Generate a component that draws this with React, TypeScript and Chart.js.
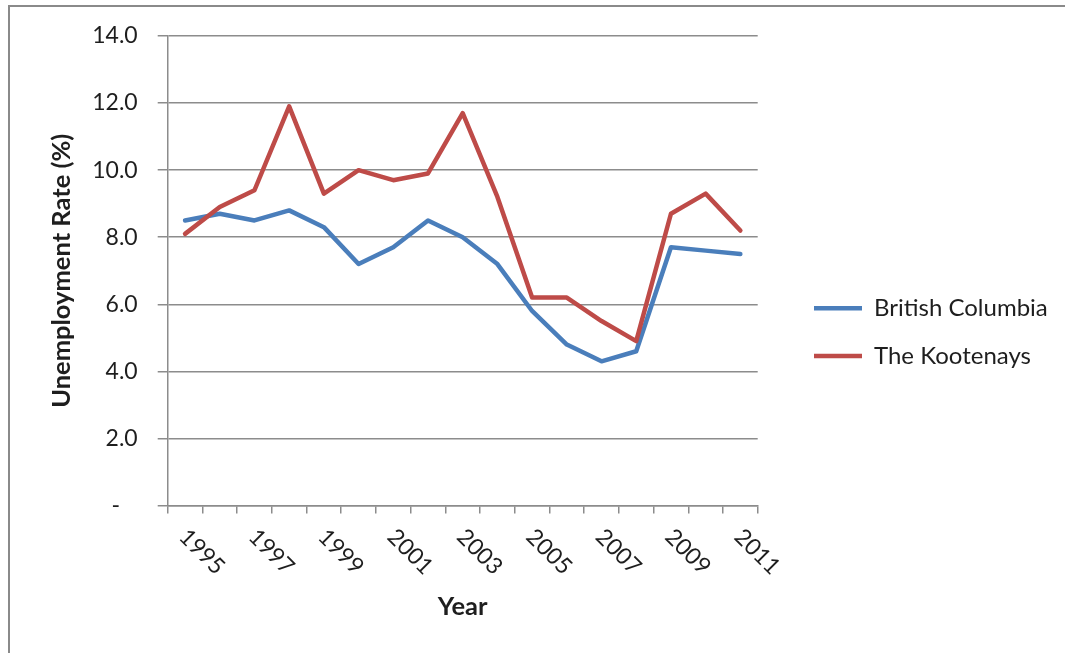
import React, { useEffect, useRef } from 'react';
import { Chart, registerables } from 'chart.js';

Chart.register(...registerables);

const years = ['1995', '1996', '1997', '1998', '1999', '2000', '2001', '2002', '2003', '2004', '2005', '2006', '2007', '2008', '2009', '2010', '2011'];
const xTickLabels = ['1995', '1997', '1999', '2001', '2003', '2005', '2007', '2009', '2011'];
const britishColumbia = [8.5, 8.7, 8.5, 8.8, 8.3, 7.2, 7.7, 8.5, 8.0, 7.2, 5.8, 4.8, 4.3, 4.6, 7.7, 7.6, 7.5];
const kootenays = [8.1, 8.9, 9.4, 11.9, 9.3, 10.0, 9.7, 9.9, 11.7, 9.2, 6.2, 6.2, 5.5, 4.9, 8.7, 9.3, 8.2];
const yTickValues = [0, 2, 4, 6, 8, 10, 12, 14];
const seriesNames = ['British Columbia', 'The Kootenays'];

const FONT = 'Lato';
const TEXT = '#1e1e1e';
const GRID = '#8c8c8c';
const FS = 23;
const LFS = 24;
const TFS = 25.5;

const LEGEND_PITCH = 47.7;
const LEGEND_PAD = LEGEND_PITCH - LFS;
const LEGEND_LINE = 48;
const LEGEND_ITEMS_X = 814;
const CHART_RIGHT = 757.7;

const rotatedXLabels = {
  id: 'rotatedXLabels',
  afterDraw(chart: any) {
    const xs = chart.scales.x;
    const ctx = chart.ctx as CanvasRenderingContext2D;
    ctx.save();
    ctx.font = `${FS}px ${FONT}`;
    ctx.fillStyle = TEXT;
    ctx.textAlign = 'left';
    ctx.textBaseline = 'middle';
    xTickLabels.forEach((label) => {
      const i = years.indexOf(label);
      const px = xs.getPixelForValue(i);
      ctx.save();
      ctx.translate(px - 2, xs.top + 27.5);
      ctx.rotate(Math.PI / 4);
      ctx.fillText(label, 0, 0);
      ctx.restore();
    });
    ctx.restore();
  },
};

export default function App() {
  const ref = useRef<HTMLCanvasElement | null>(null);

  useEffect(() => {
    if (!ref.current) return;
    const legendLeft = LEGEND_ITEMS_X - LEGEND_PAD;
    const gapW = legendLeft - CHART_RIGHT;

    const lineStyle = {
      borderWidth: 4.5,
      pointRadius: 0,
      pointHoverRadius: 0,
      tension: 0,
      borderJoinStyle: 'round' as const,
      borderCapStyle: 'round' as const,
      fill: false,
    };
    const chart = new Chart(ref.current, {
      type: 'line',
      data: {
        labels: years,
        datasets: [
          { label: seriesNames[0], data: britishColumbia, borderColor: '#4a7ebb', backgroundColor: '#4a7ebb', order: 1, ...lineStyle },
          { label: seriesNames[1], data: kootenays, borderColor: '#be4b48', backgroundColor: '#be4b48', order: 0, ...lineStyle },
        ],
      },
      options: {
        responsive: false,
        animation: false,
        events: [],
        layout: { padding: { top: 36, bottom: 24.6, left: 0, right: 20 } },
        plugins: {
          legend: {
            position: 'right',
            maxWidth: 600,
            labels: {
              usePointStyle: true,
              pointStyle: 'line',
              pointStyleWidth: LEGEND_LINE,
              padding: LEGEND_PAD,
              font: { family: FONT, size: LFS },
              color: TEXT,
              sort: (a: any, b: any) => a.datasetIndex - b.datasetIndex,
            },
          },
          tooltip: { enabled: false },
        },
        scales: {
          x: {
            type: 'category',
            offset: true,
            grid: { offset: true, drawOnChartArea: false, drawTicks: true, tickLength: 8, color: GRID, lineWidth: 1.5 },
            border: { color: GRID, width: 1.5 },
            ticks: { display: false },
            title: {
              display: true,
              text: 'Year',
              font: { family: FONT, size: TFS, weight: 'bold' },
              color: TEXT,
              padding: { top: 0, bottom: 6.1 },
            },
            afterFit: (s: any) => { s.height = 122.9; },
          },
          y: {
            type: 'linear',
            min: 0,
            max: 14,
            afterBuildTicks: (s: any) => { s.ticks = yTickValues.map((v) => ({ value: v })); },
            ticks: {
              callback: (v: any) => (Number(v) === 0 ? '-   ' : Number(v).toFixed(1)),
              padding: 20,
              font: { family: FONT, size: FS },
              color: TEXT,
            },
            grid: { color: GRID, lineWidth: 1.5, tickLength: 10 },
            border: { color: GRID, width: 1.5 },
            title: {
              display: true,
              text: 'Unemployment Rate (%)',
              font: { family: FONT, size: TFS, weight: 'bold' },
              color: TEXT,
              padding: { top: 46.7, bottom: 0 },
            },
            afterFit: (s: any) => { s.width = 167.7; },
          },
          gap: {
            type: 'linear',
            position: 'right',
            display: true,
            grid: { display: false },
            ticks: { display: false },
            border: { display: false },
            afterFit: (s: any) => { s.width = gapW; },
          },
        },
      },
      plugins: [rotatedXLabels],
    } as any);

    // size the right padding from the legend width Chart.js actually computed
    const lw = (chart as any).legend ? (chart as any).legend.width : 250;
    (chart.options as any).layout.padding.right = 1065 - legendLeft - lw;
    chart.update();

    return () => chart.destroy();
  }, []);

  return (
    <div style={{ position: 'fixed', left: 0, top: 0, width: 1065, height: 653, background: '#fff', overflow: 'hidden' }}>
      <canvas ref={ref} width={1065} height={653} style={{ position: 'absolute', left: 0, top: 0, width: 1065, height: 653, display: 'block' }} />
      <div style={{ position: 'absolute', left: 8, top: 5, width: 1100, height: 700, borderLeft: '2px solid #8a8a8a', borderTop: '2px solid #8a8a8a', pointerEvents: 'none' }} />
    </div>
  );
}
